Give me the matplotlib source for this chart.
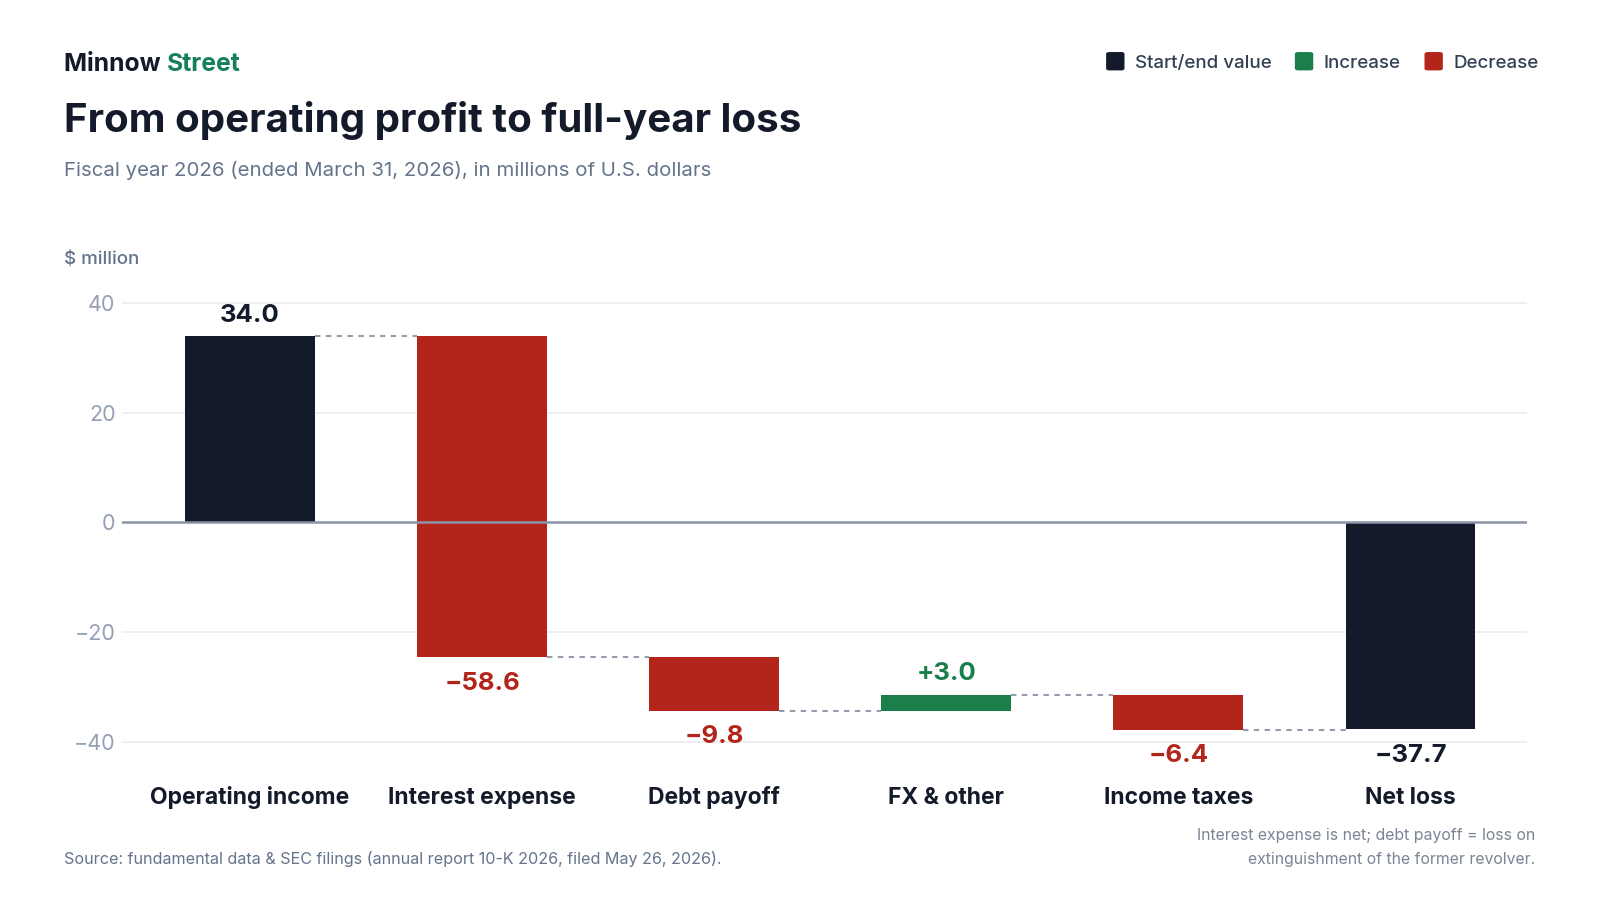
import matplotlib
matplotlib.use("Agg")
import matplotlib.pyplot as plt
import matplotlib.transforms as mtransforms
from matplotlib.patches import FancyBboxPatch

plt.rcParams['font.family'] = ['Inter', 'DejaVu Sans']

categories = ["Operating income", "Interest expense", "Debt payoff", "FX & other", "Income taxes", "Net loss"]
values = [34.0, -58.6, -9.8, 3.0, -6.4, -37.7]
kinds = ["total", "delta", "delta", "delta", "delta", "total"]
value_labels = ["34.0", "\u221258.6", "\u22129.8", "+3.0", "\u22126.4", "\u221237.7"]
yticks = [-40, -20, 0, 20, 40]

DARK = "#131a29"
RED = "#b3241a"
GREEN = "#1b7f4c"
GRID = "#e9ecf1"
ZERO = "#8a94a6"
TICK = "#94a0b4"
SUB = "#64748b"

W, H = 1568.0, 882.0  # layout reference grid


def fx(x):
    return x / W


def fy(y):
    return 1 - y / H


fig = plt.figure(figsize=(16, 9), dpi=100)
ax = fig.add_axes([fx(120), fy(737.75), (1496 - 120) / W, (737.75 - 286.25) / H])
ax.set_xlim(-0.55, 5.5)
ax.set_ylim(-42, 42)

bars = []
running = 0.0
for v, k in zip(values, kinds):
    if k == "total":
        lo, hi = min(0, v), max(0, v)
        running = v
        color = DARK
    else:
        start = running
        running = running + v
        lo, hi = min(start, running), max(start, running)
        color = GREEN if v > 0 else RED
    bars.append((lo, hi, color, running))

w = 0.56
for i, (lo, hi, color, end) in enumerate(bars):
    ax.bar(i, hi - lo, bottom=lo, width=w, color=color, zorder=3, linewidth=0)

for i in range(len(bars) - 1):
    level = bars[i][3]
    ax.plot([i + w / 2, i + 1 - w / 2], [level, level], color="#959cad",
            linestyle=(0, (2.6, 2.6)), linewidth=1.5, zorder=2)

for i, ((lo, hi, color, end), v, lab) in enumerate(zip(bars, values, value_labels)):
    above = v > 0
    y = hi if above else lo
    off = 15.0 if above else -18.6
    ax.annotate(lab, (i, y), xytext=(0, off), textcoords="offset points",
                ha="center", va="center", fontsize=18.5, fontweight="bold",
                color=color, zorder=4)

ax.set_yticks(yticks)
ax.set_yticklabels([("\u2212%d" % -t) if t < 0 else "%d" % t for t in yticks])
for t in yticks:
    if t != 0:
        ax.axhline(t, color=GRID, linewidth=1.2, zorder=0)
ax.axhline(0, color=ZERO, linewidth=1.8, zorder=4)
for s in ax.spines.values():
    s.set_visible(False)
ax.tick_params(axis="y", length=0, pad=5, labelsize=15.5, labelcolor=TICK)
ax.set_xticks([])

trans = mtransforms.blended_transform_factory(ax.transData, fig.transFigure)
for i, c in enumerate(categories):
    ax.text(i, fy(782), c, transform=trans, ha="center", va="center",
            fontsize=16.5, fontweight="bold", color=DARK, clip_on=False)

# header
t1 = fig.text(fx(63), fy(63), "Minnow ", fontsize=17.8, fontweight="bold", color=DARK, va="center", ha="left")
fig.canvas.draw()
bb = t1.get_window_extent()
x_after = bb.x1 / fig.bbox.width
fig.text(x_after, fy(63), "Street", fontsize=17.8, fontweight="bold", color="#16805a", va="center", ha="left")
fig.text(fx(63), fy(118), "From operating profit to full-year loss", fontsize=29,
         fontweight="bold", color=DARK, va="center", ha="left")
fig.text(fx(63), fy(167), "Fiscal year 2026 (ended March 31, 2026), in millions of U.S. dollars",
         fontsize=14.7, color=SUB, va="center", ha="left")
fig.text(fx(63), fy(254), "$ million", fontsize=13.5, fontweight="medium", color=SUB,
         va="center", ha="left")

# legend
leg_items = [("Start/end value", DARK, 1084), ("Increase", GREEN, 1269), ("Decrease", RED, 1396)]
for lab, col, x0 in leg_items:
    sq = FancyBboxPatch((fx(x0), fy(69)), 18 / W, 18 / H,
                        boxstyle="round,pad=0,rounding_size=0.002", transform=fig.transFigure,
                        facecolor=col, edgecolor="none")
    fig.patches.append(sq)
    fig.text(fx(x0 + 28), fy(62), lab, fontsize=13.5, fontweight="medium", color="#334155",
             va="center", ha="left")

# footer
fig.text(fx(63), fy(842),
         "Source: fundamental data & SEC filings (annual report 10-K 2026, filed May 26, 2026).",
         fontsize=11.6, color=SUB, va="center", ha="left")
fig.text(fx(1505), fy(819), "Interest expense is net; debt payoff = loss on",
         fontsize=11.4, color="#7b8494", va="center", ha="right")
fig.text(fx(1505), fy(842), "extinguishment of the former revolver.",
         fontsize=11.4, color="#7b8494", va="center", ha="right")

fig.savefig("out.png", dpi=100, facecolor="white")
